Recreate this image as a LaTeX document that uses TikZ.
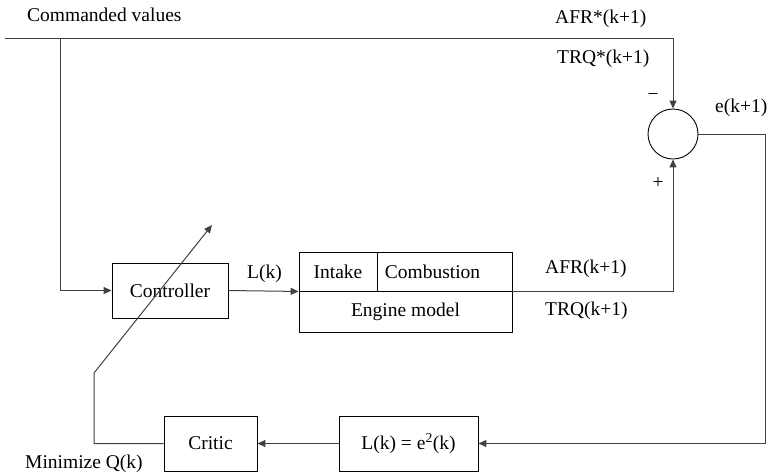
\documentclass[tikz,border=0pt]{standalone}
\usepackage{fontspec}
\setmainfont{Liberation Serif}
\usetikzlibrary{arrows.meta}
\begin{document}
\begin{tikzpicture}[x=1pt,y=-1pt,
  every node/.style={font=\fontsize{19.5}{22}\selectfont, inner sep=0pt},
  blk/.style={draw=black, line width=0.9pt},
  lbl/.style={anchor=base west},
  conn/.style={draw=black!75, line width=1pt},
  arr/.style={conn, -{Triangle[length=8pt,width=7pt]}}]
\path[use as bounding box] (0,0) rectangle (768,475);

% blocks
\node[blk, minimum width=116pt, minimum height=55pt] (ctrl) at (170,290.5) {Controller};
\node[blk, minimum width=78pt, minimum height=39pt] (intake) at (338,271.5) {Intake};
\node[blk, minimum width=135pt, minimum height=39pt] (comb) at (444.5,271.5) {};
\node (combtxt) at (432.5,271.5) {Combustion};
\node[blk, minimum width=213pt, minimum height=41pt] (eng) at (405.5,311.5) {Engine model};
\node[blk, circle, minimum size=50pt] (sum) at (673,134) {};
\node[blk, minimum width=139pt, minimum height=55pt] (lbox) at (408.5,443.5) {L(k) = e\textsuperscript{2}(k)};
\node[blk, minimum width=93pt, minimum height=55pt] (critic) at (210.5,443.5) {Critic};

% coordinates
\coordinate (cin) at (5,38);
\coordinate (br) at (60,38);
\coordinate (rc) at (765,134);
\coordinate (q1) at (94,373);
\coordinate (q2) at (212,225);

% connectors
\draw[arr] (cin) -- (sum.north |- cin) -- (sum.north);
\draw[arr] (br) |- (ctrl.west);
\draw[arr] (ctrl.east) -- (intake.south west);
\draw[arr] (comb.south east) -| (sum.south);
\draw[arr] (sum.east) -- (rc) |- (lbox.east);
\draw[arr] (lbox.west) -- (critic.east);
\draw[arr] (critic.west) -| (q1) -- (q2);

% labels
\node[lbl] (tcmd) at (27,21) {Commanded values};
\node[lbl] (tafrs) at (555,23) {AFR*(k+1)};
\node[lbl] (ttrqs) at (557,63) {TRQ*(k+1)};
\node[lbl] (te) at (715,112) {e(k+1)};
\node (tminus) at (653,97) {−};
\node (tplus) at (658,183) {+};
\node[lbl] (tlk) at (247,278) {L(k)};
\node[lbl] (tafr) at (545,273) {AFR(k+1)};
\node[lbl] (ttrq) at (545,315) {TRQ(k+1)};
\node[lbl] (tmin) at (25,468) {Minimize Q(k)};
\end{tikzpicture}
\end{document}
